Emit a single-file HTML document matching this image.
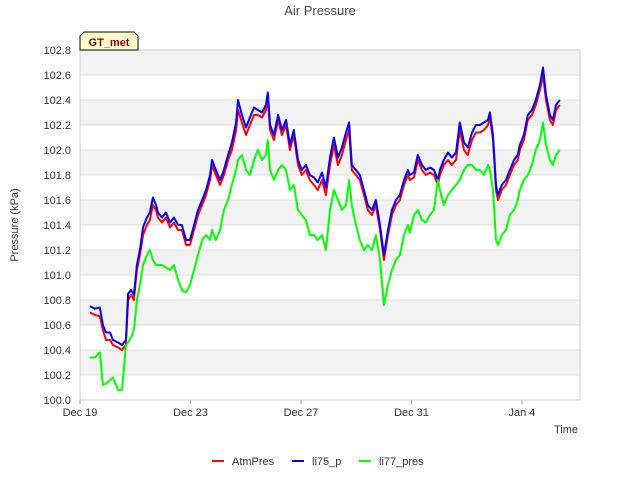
<!DOCTYPE html>
<html><head><meta charset="utf-8"><style>
body{margin:0;background:#fff;font-family:"Liberation Sans",sans-serif}
</style></head><body>
<svg width="640" height="480" xmlns="http://www.w3.org/2000/svg" font-family="Liberation Sans, sans-serif">
<rect width="640" height="480" fill="#fff"/>
<text x="320" y="15" text-anchor="middle" font-size="13" fill="#444">Air Pressure</text>
<g id="bands"></g>
<g id="yticks"></g>
<g id="xticks"></g>
<rect x="80" y="50" width="500" height="350" fill="none" stroke="#ccc"/>
<g id="series"></g>
<text x="18" y="225" transform="rotate(-90 18 225)" text-anchor="middle" font-size="11" fill="#333">Pressure (kPa)</text>
<text x="578" y="433" text-anchor="end" font-size="11" fill="#333">Time</text>
<g>
<path d="M80,50 L80,36 L84,32 L134,32 L138,36 L138,50 Z" fill="#ffffcc" stroke="#000"/>
<text x="109" y="46" text-anchor="middle" font-size="11" font-weight="bold" fill="#8b0000">GT_met</text>
</g>
<g>
<g><line x1="212" y1="461" x2="224" y2="461" stroke="#f00" stroke-width="2"/><text x="232" y="465" font-size="11" fill="#333">AtmPres</text></g>
<g><line x1="292" y1="461" x2="304" y2="461" stroke="#00f" stroke-width="2"/><text x="312" y="465" font-size="11" fill="#333">li75_p</text></g>
<g><line x1="359" y1="461" x2="371" y2="461" stroke="#0f0" stroke-width="2"/><text x="379" y="465" font-size="11" fill="#333">li77_pres</text></g>
</g>
</svg>
<script>
const days=[0.36,0.54,0.72,0.83,0.94,1.09,1.19,1.38,1.52,1.66,1.74,1.85,1.95,2.06,2.17,2.28,2.42,2.53,2.64,2.75,2.82,2.97,3.11,3.26,3.40,3.55,3.69,3.84,3.98,4.13,4.27,4.42,4.56,4.71,4.78,4.92,5.07,5.21,5.36,5.50,5.65,5.72,5.86,6.01,6.15,6.30,6.44,6.59,6.73,6.80,6.88,7.02,7.17,7.31,7.46,7.60,7.74,7.89,8.03,8.18,8.32,8.47,8.61,8.76,8.90,9.05,9.19,9.34,9.48,9.63,9.74,9.84,9.99,10.13,10.28,10.42,10.57,10.71,10.86,11.00,11.15,11.29,11.44,11.58,11.73,11.87,11.94,12.09,12.23,12.38,12.52,12.67,12.81,12.96,13.03,13.17,13.32,13.46,13.61,13.75,13.90,14.04,14.19,14.33,14.48,14.62,14.77,14.84,14.95,15.06,15.13,15.27,15.42,15.56,15.71,15.85,15.92,16.07,16.21,16.36,16.50,16.65,16.76,16.87,17.01,17.12,17.23,17.37];
const atmPres=[100.70,100.68,100.67,100.56,100.48,100.48,100.44,100.42,100.40,100.44,100.80,100.84,100.80,101.04,101.16,101.32,101.40,101.44,101.56,101.52,101.46,101.42,101.46,101.38,101.42,101.36,101.36,101.24,101.24,101.36,101.48,101.56,101.64,101.76,101.88,101.80,101.72,101.80,101.92,102.00,102.16,102.32,102.22,102.12,102.20,102.28,102.28,102.26,102.32,102.40,102.16,102.08,102.24,102.12,102.20,102.00,102.12,101.88,101.80,101.84,101.76,101.72,101.68,101.76,101.64,101.88,102.04,101.88,101.96,102.08,102.16,101.84,101.80,101.76,101.64,101.52,101.48,101.56,101.36,101.12,101.32,101.48,101.56,101.60,101.72,101.80,101.76,101.78,101.92,101.84,101.80,101.82,101.80,101.72,101.80,101.88,101.92,101.88,101.92,102.16,102.00,101.96,102.08,102.14,102.14,102.16,102.20,102.26,102.08,101.68,101.60,101.68,101.72,101.80,101.88,101.92,102.00,102.08,102.24,102.28,102.36,102.48,102.60,102.40,102.24,102.20,102.32,102.36];
const li75=[100.75,100.73,100.74,100.60,100.54,100.54,100.48,100.46,100.44,100.48,100.85,100.88,100.84,101.08,101.20,101.38,101.46,101.50,101.62,101.56,101.50,101.46,101.50,101.42,101.46,101.40,101.40,101.28,101.28,101.40,101.52,101.60,101.68,101.80,101.92,101.84,101.76,101.84,101.96,102.06,102.22,102.40,102.28,102.18,102.26,102.34,102.32,102.30,102.36,102.46,102.20,102.12,102.28,102.16,102.24,102.04,102.16,101.92,101.84,101.88,101.80,101.78,101.74,101.82,101.70,101.94,102.10,101.94,102.02,102.14,102.22,101.88,101.84,101.80,101.68,101.56,101.52,101.60,101.40,101.16,101.36,101.52,101.60,101.64,101.76,101.84,101.80,101.82,101.96,101.88,101.84,101.86,101.84,101.76,101.84,101.92,101.98,101.94,101.98,102.22,102.06,102.02,102.14,102.20,102.20,102.22,102.24,102.30,102.12,101.72,101.64,101.72,101.76,101.84,101.92,101.96,102.04,102.12,102.28,102.32,102.40,102.52,102.66,102.44,102.28,102.24,102.36,102.40];
const li77=[100.34,100.34,100.38,100.12,100.13,100.16,100.18,100.08,100.08,100.44,100.46,100.50,100.56,100.80,100.92,101.08,101.16,101.20,101.12,101.08,101.08,101.08,101.06,101.04,101.08,100.96,100.88,100.86,100.92,101.04,101.16,101.28,101.32,101.28,101.36,101.28,101.36,101.52,101.60,101.72,101.84,101.92,101.96,101.84,101.80,101.92,102.00,101.92,101.96,102.08,101.84,101.76,101.84,101.88,101.84,101.68,101.72,101.52,101.48,101.44,101.32,101.32,101.28,101.32,101.20,101.52,101.68,101.60,101.52,101.56,101.76,101.56,101.40,101.28,101.20,101.24,101.20,101.32,101.12,100.76,100.92,101.04,101.12,101.16,101.32,101.40,101.34,101.48,101.52,101.44,101.42,101.48,101.52,101.76,101.68,101.56,101.64,101.68,101.72,101.76,101.84,101.88,101.88,101.84,101.84,101.80,101.88,101.84,101.68,101.28,101.24,101.32,101.36,101.48,101.52,101.60,101.68,101.76,101.80,101.88,102.00,102.08,102.22,102.04,101.92,101.88,101.96,102.00];
const yTicks=[100.0,100.2,100.4,100.6,100.8,101.0,101.2,101.4,101.6,101.8,102.0,102.2,102.4,102.6,102.8];
const xTickDays=[0,4,8,12,16];
const xTickLabels=["Dec 19","Dec 23","Dec 27","Dec 31","Jan 4"];
const X0=80,X1=580,Y0=400,Y1=50,DMAX=18.1,VMIN=100,VMAX=102.8;
const xs=d=>X0+d*(X1-X0)/DMAX;
const ys=v=>Y0-(v-VMIN)*(Y0-Y1)/(VMAX-VMIN);
const NS="http://www.w3.org/2000/svg";
function mk(tag,attrs,parent){const e=document.createElementNS(NS,tag);for(const k in attrs)e.setAttribute(k,attrs[k]);parent.appendChild(e);return e;}
const bands=document.getElementById('bands'),yt=document.getElementById('yticks'),xt=document.getElementById('xticks'),sg=document.getElementById('series');
for(let i=0;i<yTicks.length-1;i++){
  if(i%2===1){const r=mk('rect',{x:X0,y:ys(yTicks[i+1]),width:X1-X0,height:ys(yTicks[i])-ys(yTicks[i+1]),fill:'#f2f2f2'},bands);
  
  }
}
yTicks.forEach(v=>{
  const l=mk('line',{x1:X0,x2:X1,y1:ys(v),y2:ys(v),stroke:'#ddd'},yt);
  
  
  const t=mk('text',{x:X0-9,y:ys(v)+4,'text-anchor':'end','font-size':'11',fill:'#333'},yt);
  t.textContent=v.toFixed(1);
  
  
});
xTickDays.forEach((d,i)=>{
  const l=mk('line',{x1:xs(d),x2:xs(d),y1:Y0,y2:Y0+4,stroke:'#999'},xt);
  
  
  const t=mk('text',{x:xs(d),y:Y0+16,'text-anchor':'middle','font-size':'11',fill:'#333'},xt);
  t.textContent=xTickLabels[i];
  
  
});
function line(vals,color,name){
  const n=Math.min(days.length,vals.length);
  let d='';for(let i=0;i<n;i++)d+=(i?'L':'M')+xs(days[i]).toFixed(1)+','+ys(vals[i]).toFixed(1);
  const p=mk('path',{d:d,fill:'none',stroke:color,'stroke-width':'2','stroke-linejoin':'round'},sg);
  
  
}
line(atmPres,'#f00','atmpres-line');
line(li75,'#00f','li75-p-line');
line(li77,'#0f0','li77-pres-line');
</script>
</body></html>
